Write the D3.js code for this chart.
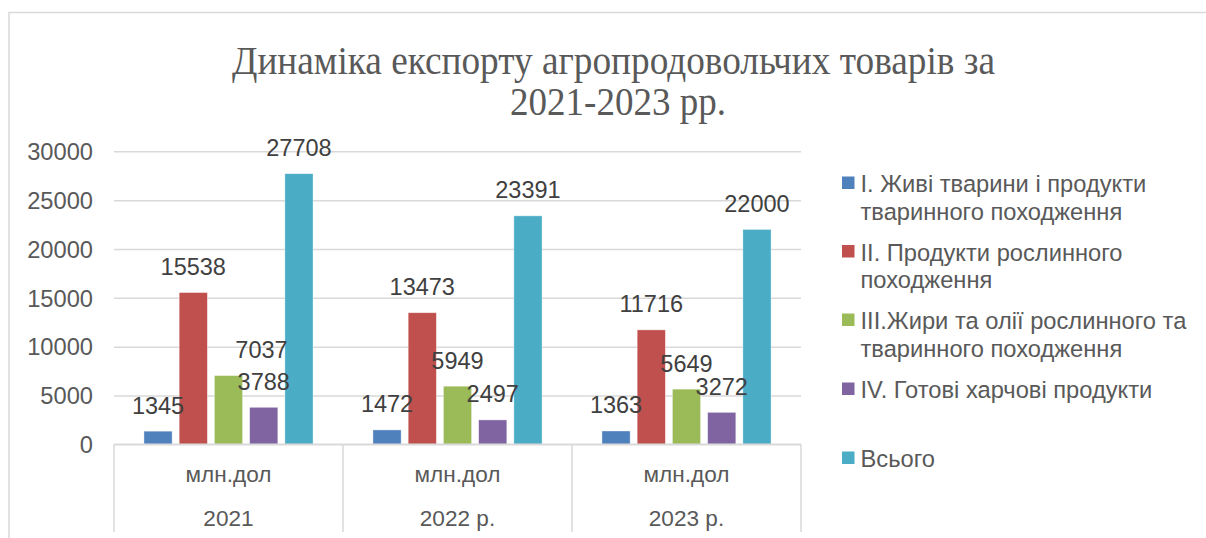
<!DOCTYPE html>
<html>
<head>
<meta charset="utf-8">
<script src="https://cdn.jsdelivr.net/npm/d3@7"></script>
<style>
  body { margin: 0; background: #fff; }
  svg { display: block; }
  text { font-family: "Liberation Sans", Arial, sans-serif; }
</style>
</head>
<body>
<div id="chart"></div>
<script>
// data
const years = ["2021", "2022 р.", "2023 р."];
const unitLabel = "млн.дол";
const seriesNames = [
  "I. Живі тварини і продукти тваринного походження",
  "II. Продукти рослинного походження",
  "III.Жири та олії рослинного та тваринного походження",
  "IV. Готові харчові продукти",
  "Всього"
];
const legendLines = [
  ["I. Живі тварини і продукти", "тваринного походження"],
  ["II. Продукти рослинного", "походження"],
  ["III.Жири та олії рослинного та", "тваринного походження"],
  ["IV. Готові харчові продукти"],
  ["Всього"]
];
const livestock = [1345, 1472, 1363];
const plants = [15538, 13473, 11716];
const fats = [7037, 5949, 5649];
const foods = [3788, 2497, 3272];
const total = [27708, 23391, 22000];
const yTicks = [0, 5000, 10000, 15000, 20000, 25000, 30000];

const seriesValues = [livestock, plants, fats, foods, total];
const colors = ["#4F81BD", "#C0504D", "#9BBB59", "#8064A2", "#4BACC6"];
// one label was dragged sideways in the original
const labelNudge = { "2|0": 33 };

const width = 1206, height = 538;
const plot = { left: 114, right: 801, top: 151.3, bottom: 444.3 };

const svg = d3.select("#chart").append("svg")
  .attr("width", width)
  .attr("height", height);

// chart frame
svg.append("path")
  .attr("d", `M9,${height + 2} V12.5 H${width + 2}`)
  .attr("fill", "none")
  .attr("stroke", "#d9d9d9")
  .attr("stroke-width", 1.5);

// title
const title = svg.append("g").attr("fill", "#595959")
  .style("font-size", "40px");
title.append("text").attr("x", 613.5).attr("y", 74).attr("text-anchor", "middle")
  .attr("textLength", 763).attr("lengthAdjust", "spacingAndGlyphs")
  .style("font-family", '"Liberation Serif", serif')
  .text("Динаміка експорту агропродовольчих товарів за");
title.append("text").attr("x", 618).attr("y", 115).attr("text-anchor", "middle")
  .attr("textLength", 216).attr("lengthAdjust", "spacingAndGlyphs")
  .style("font-family", '"Liberation Serif", serif')
  .text("2021-2023 рр.");

const y = d3.scaleLinear().domain([0, 30000]).range([plot.bottom, plot.top]);
const x0 = d3.scaleBand().domain(years).range([plot.left, plot.right]);
const x1 = d3.scaleBand().domain(d3.range(seriesValues.length))
  .range([0, x0.bandwidth()]).paddingInner(0.2).paddingOuter(0.85);

// gridlines
svg.append("g")
  .attr("transform", `translate(${plot.left},0)`)
  .call(d3.axisLeft(y).tickValues(yTicks).tickSize(-(plot.right - plot.left)).tickFormat(""))
  .call(g => g.select(".domain").remove())
  .call(g => g.selectAll("line").attr("stroke", "#d9d9d9").attr("stroke-width", 1.5));

// y tick labels
svg.append("g")
  .attr("transform", `translate(${plot.left},0)`)
  .call(d3.axisLeft(y).tickValues(yTicks).tickSize(0).tickPadding(21).tickFormat(d3.format("d")))
  .call(g => g.select(".domain").remove())
  .call(g => g.selectAll("text")
    .attr("fill", "#595959").attr("dy", "0.35em")
    .style("font-size", "23.7px").style("font-family", '"Liberation Sans", Arial, sans-serif'));

// bars
const groups = svg.append("g").selectAll("g")
  .data(years)
  .join("g")
  .attr("transform", d => `translate(${x0(d)},0)`);

groups.selectAll("rect")
  .data((d, ci) => seriesValues.map((vals, si) => ({ si, ci, v: vals[ci] })))
  .join("rect")
  .attr("x", d => x1(d.si))
  .attr("width", x1.bandwidth())
  .attr("y", d => y(d.v))
  .attr("height", d => y(0) - y(d.v))
  .attr("fill", d => colors[d.si])
  .attr("stroke", "#fff")
  .attr("stroke-opacity", 0.5)
  .attr("stroke-width", 0.75);

groups.selectAll("text.lbl")
  .data((d, ci) => seriesValues.map((vals, si) => ({ si, ci, v: vals[ci] })))
  .join("text")
  .attr("class", "lbl")
  .attr("x", d => x1(d.si) + x1.bandwidth() / 2 + (labelNudge[d.si + "|" + d.ci] || 0))
  .attr("y", d => y(d.v) - 17.6)
  .attr("text-anchor", "middle")
  .attr("fill", "#404040")
  .style("font-size", "23.5px")
  .text(d => d.v);

// category axis (two levels)
const cat = svg.append("g");
cat.append("line")
  .attr("x1", plot.left).attr("x2", plot.right)
  .attr("y1", y(0)).attr("y2", y(0))
  .attr("stroke", "#d9d9d9").attr("stroke-width", 1.5);
cat.selectAll("line.sep")
  .data(years.map(d => x0(d)).concat([plot.right]))
  .join("line")
  .attr("class", "sep")
  .attr("x1", d => d).attr("x2", d => d)
  .attr("y1", y(0)).attr("y2", 532)
  .attr("stroke", "#d9d9d9").attr("stroke-width", 1.5);
cat.selectAll("text.unit")
  .data(years)
  .join("text")
  .attr("class", "unit")
  .attr("x", d => x0(d) + x0.bandwidth() / 2)
  .attr("y", 482)
  .attr("text-anchor", "middle")
  .attr("fill", "#595959")
  .style("font-size", "22.6px")
  .text(unitLabel);
cat.selectAll("text.year")
  .data(years)
  .join("text")
  .attr("class", "year")
  .attr("x", d => x0(d) + x0.bandwidth() / 2)
  .attr("y", 526)
  .attr("text-anchor", "middle")
  .attr("fill", "#595959")
  .style("font-size", "22.6px")
  .text(d => d);

// legend
const legendY = [192, 260.5, 329, 398, 467];
const legend = svg.append("g").selectAll("g")
  .data(seriesNames)
  .join("g")
  .attr("transform", (d, i) => `translate(842,${legendY[i]})`);
legend.append("rect")
  .attr("x", 0).attr("y", -15.5)
  .attr("width", 12.5).attr("height", 12.5)
  .attr("fill", (d, i) => colors[i]);
legend.append("text")
  .attr("fill", "#595959")
  .style("font-size", "23.7px")
  .selectAll("tspan")
  .data((d, i) => legendLines[i])
  .join("tspan")
  .attr("x", 18.5)
  .attr("y", (d, j) => j * 27.8)
  .text(d => d);
</script>
</body>
</html>
